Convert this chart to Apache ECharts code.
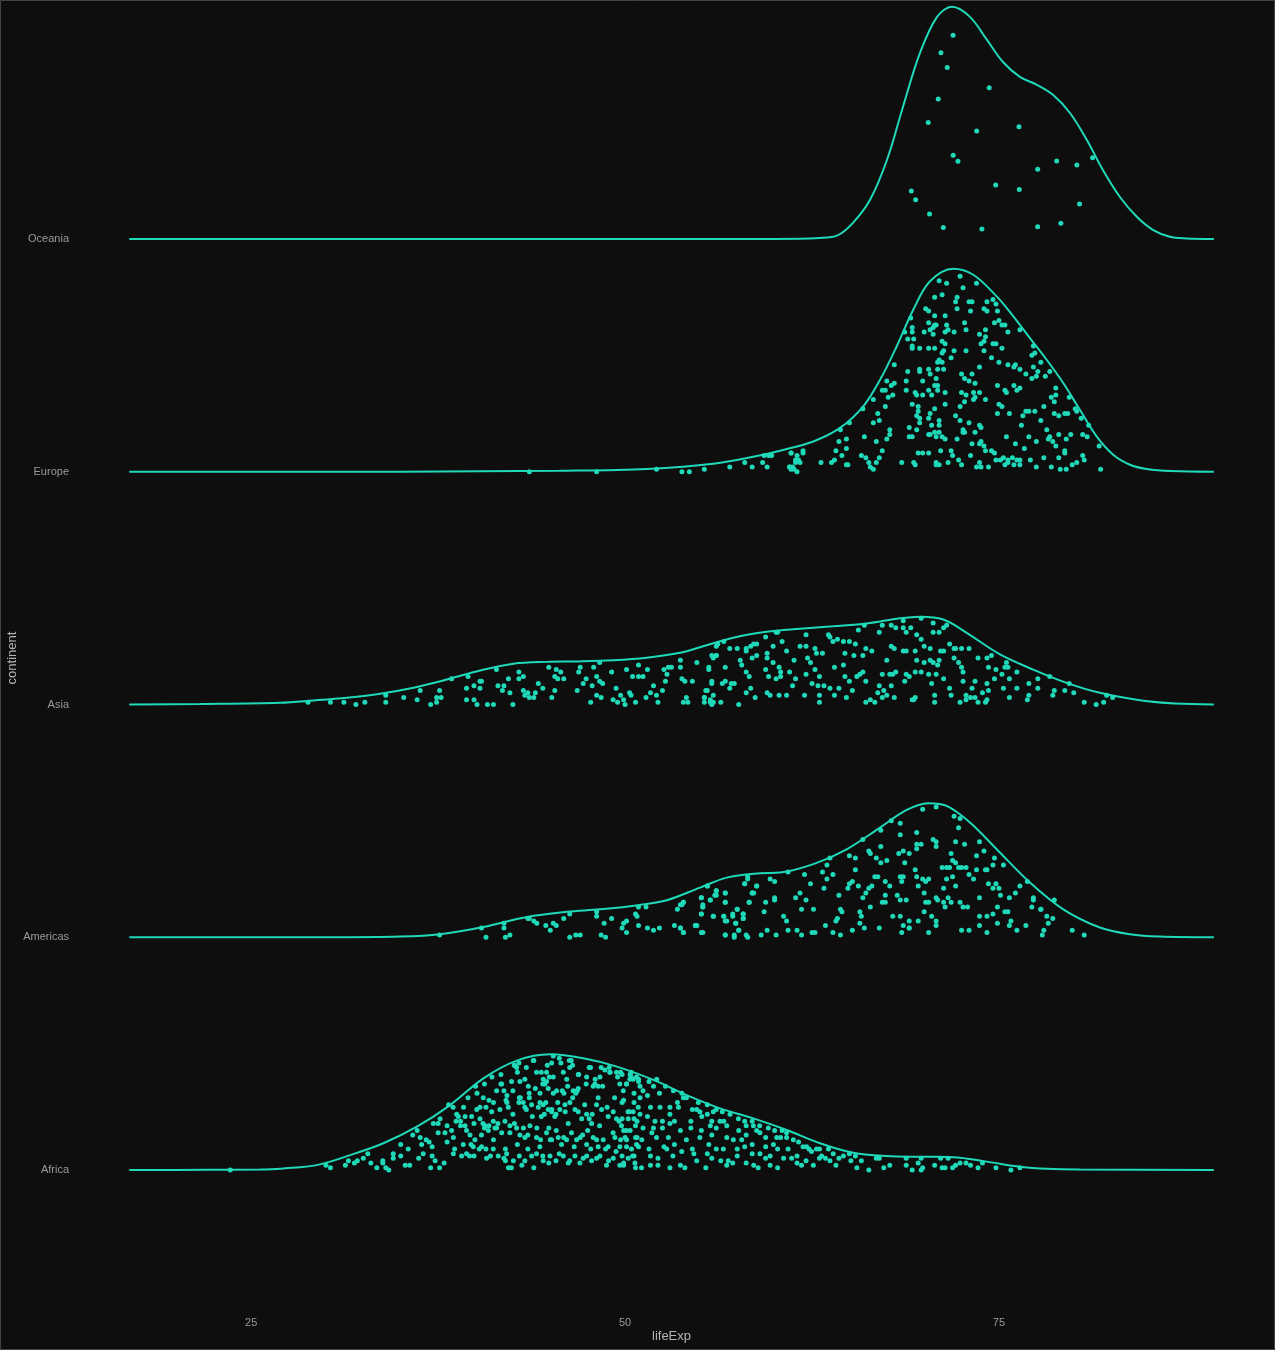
<!DOCTYPE html>
<html><head><meta charset="utf-8">
<script src="https://cdn.jsdelivr.net/npm/echarts@6/dist/echarts.min.js"></script>
<style>html,body{margin:0;padding:0;background:#0e0e0e}#c{width:1275px;height:1350px}</style>
</head><body><div id="c"></div>
<script>
const continents = ['Africa','Americas','Asia','Europe','Oceania'];
const xTicks = [25, 50, 75];

// density curves: [lifeExp, height in ridge units]
const africaCurve = [[16.85,0],[22,0.001],[25.6,0.002],[27.16,0.007],[29.39,0.021],[31.62,0.064],[33.84,0.115],[36.08,0.186],[38.3,0.279],[40.53,0.394],[42.76,0.470],[44.99,0.497],[47.21,0.480],[49.45,0.444],[51.89,0.387],[54.12,0.322],[56.35,0.265],[58.58,0.222],[60.81,0.172],[63.03,0.115],[65.26,0.074],[67.49,0.060],[69.72,0.057],[71.94,0.055],[74.18,0.036],[76.4,0.014],[77.74,0.007],[80.41,0.002],[89.37,0]];
const americasCurve = [[16.85,0],[30.3,0],[34.96,0.003],[37.63,0.013],[40.53,0.044],[43.43,0.087],[46.1,0.109],[48.33,0.120],[51.0,0.139],[52.79,0.159],[55.01,0.213],[56.8,0.256],[59.02,0.275],[60.36,0.278],[62.59,0.314],[64.82,0.378],[67.05,0.471],[68.83,0.547],[70.27,0.576],[71.5,0.564],[73.06,0.493],[74.85,0.378],[77.07,0.235],[79.3,0.120],[81.75,0.042],[83.76,0.013],[85.76,0.003],[89.37,0]];
const asiaCurve = [[16.85,0],[21.6,0.002],[26.94,0.007],[29.16,0.017],[31.4,0.029],[33.62,0.046],[35.85,0.072],[38.08,0.107],[40.31,0.146],[42.53,0.175],[44.77,0.183],[46.99,0.185],[49.22,0.190],[51.45,0.201],[53.68,0.222],[55.01,0.246],[57.24,0.287],[59.47,0.312],[61.7,0.325],[63.92,0.336],[66.16,0.348],[68.38,0.370],[69.72,0.377],[71.28,0.365],[72.84,0.308],[75.07,0.215],[77.29,0.150],[79.52,0.093],[81.75,0.050],[84.42,0.018],[86.76,0.004],[89.37,0]];
const europeCurve = [[16.85,0],[35,0],[40.3,0.002],[45.6,0.004],[51.45,0.012],[55.9,0.034],[59.24,0.073],[60.36,0.09],[62.59,0.130],[64.37,0.188],[65.93,0.281],[67.05,0.395],[68.16,0.538],[69.27,0.696],[70.39,0.818],[71.94,0.872],[73.28,0.846],[74.85,0.753],[75.96,0.667],[77.07,0.574],[78.19,0.481],[79.3,0.381],[80.41,0.266],[81.53,0.152],[82.64,0.073],[83.76,0.030],[84.87,0.012],[86.5,0.003],[89.37,0]];
const oceaniaCurve = [[16.85,0],[60,0],[63.0,0.004],[64.2,0.015],[65.24,0.069],[66.38,0.168],[67.51,0.339],[68.58,0.567],[69.72,0.799],[70.86,0.954],[71.86,0.997],[73.06,0.954],[74.2,0.855],[75.27,0.760],[76.4,0.696],[77.54,0.662],[78.61,0.619],[79.75,0.541],[80.88,0.425],[81.95,0.296],[83.09,0.180],[84.22,0.095],[85.29,0.039],[86.43,0.009],[87.5,0.002],[89.37,0]];

// jittered points: [lifeExp, height in ridge units]
const oceaniaPts = [[71.93,0.875],[71.12,0.800],[71.54,0.736],[74.35,0.650],[70.94,0.601],[70.27,0.500],[73.51,0.464],[76.34,0.482],[71.94,0.360],[72.26,0.334],[77.59,0.299],[78.86,0.335],[80.21,0.318],[81.26,0.349],[69.14,0.206],[69.43,0.168],[74.78,0.232],[76.36,0.212],[70.36,0.107],[71.28,0.049],[73.86,0.043],[77.59,0.052],[79.14,0.067],[80.39,0.150]];

const europePts = [[72.4,0.84],[71.0,0.82],[71.5,0.81],[73.5,0.81],[72.6,0.79],[70.7,0.75],[71.2,0.76],[72.2,0.75],[72.1,0.73],[73.0,0.73],[73.2,0.73],[74.2,0.73],[74.6,0.74],[74.8,0.72],[70.1,0.70],[70.3,0.69],[70.7,0.67],[71.4,0.67],[72.2,0.70],[73.1,0.69],[74.0,0.70],[74.2,0.69],[74.9,0.69],[69.1,0.66],[74.7,0.64],[75.0,0.65],[75.4,0.63],[75.2,0.63],[69.2,0.62],[70.3,0.64],[70.7,0.63],[70.8,0.63],[71.5,0.63],[70.4,0.61],[70.6,0.62],[71.6,0.61],[72.0,0.60],[72.7,0.64],[72.8,0.61],[74.1,0.61],[73.7,0.59],[74.1,0.58],[75.6,0.60],[76.4,0.61],[68.7,0.60],[69.2,0.60],[70.0,0.60],[70.6,0.59],[71.4,0.60],[71.2,0.56],[71.4,0.55],[68.9,0.57],[69.3,0.57],[69.2,0.54],[69.2,0.53],[69.7,0.53],[70.3,0.53],[70.7,0.53],[71.3,0.52],[72.0,0.52],[72.8,0.52],[73.8,0.55],[74.0,0.56],[74.6,0.55],[74.8,0.55],[75.2,0.53],[74.0,0.52],[77.3,0.54],[77.4,0.51],[77.2,0.50],[74.5,0.49],[75.0,0.47],[71.8,0.49],[71.2,0.51],[71.0,0.48],[70.9,0.47],[71.2,0.47],[68.0,0.46],[69.7,0.44],[69.7,0.43],[70.3,0.44],[70.4,0.42],[70.9,0.44],[71.3,0.44],[73.7,0.45],[75.6,0.46],[76.0,0.45],[76.1,0.46],[76.4,0.44],[76.8,0.42],[77.3,0.45],[77.2,0.40],[77.5,0.41],[77.6,0.43],[78.1,0.41],[78.4,0.43],[77.8,0.47],[68.9,0.43],[72.5,0.42],[73.2,0.42],[72.7,0.40],[73.0,0.39],[73.4,0.38],[67.5,0.39],[68.0,0.38],[67.8,0.37],[68.8,0.39],[69.9,0.39],[70.8,0.40],[70.9,0.37],[70.7,0.37],[74.9,0.37],[75.4,0.35],[75.5,0.34],[76.0,0.37],[76.2,0.35],[76.4,0.36],[78.8,0.36],[78.5,0.32],[78.8,0.33],[78.7,0.30],[67.2,0.35],[67.4,0.35],[67.6,0.32],[67.9,0.33],[68.8,0.35],[69.4,0.34],[69.5,0.33],[69.9,0.33],[70.3,0.35],[70.5,0.33],[70.9,0.35],[71.4,0.34],[72.5,0.34],[72.8,0.33],[73.3,0.34],[73.7,0.34],[74.1,0.31],[75.0,0.29],[75.2,0.28],[74.9,0.25],[73.3,0.31],[73.4,0.32],[72.7,0.30],[72.4,0.28],[66.6,0.31],[67.4,0.28],[69.2,0.29],[69.6,0.28],[69.6,0.26],[70.4,0.25],[70.7,0.27],[71.4,0.29],[69.5,0.24],[69.7,0.23],[70.3,0.23],[71.0,0.22],[71.0,0.20],[69.7,0.21],[70.5,0.20],[72.1,0.24],[72.4,0.22],[73.0,0.21],[72.6,0.18],[73.7,0.20],[75.7,0.25],[76.6,0.24],[76.8,0.26],[77.0,0.26],[77.4,0.26],[78.0,0.28],[78.7,0.25],[79.0,0.24],[79.4,0.25],[79.6,0.25],[79.7,0.32],[80.1,0.27],[80.2,0.26],[80.5,0.23],[77.8,0.22],[76.5,0.20],[65.9,0.27],[66.9,0.25],[66.6,0.21],[67.0,0.22],[65.0,0.21],[64.4,0.18],[64.3,0.13],[64.8,0.14],[64.8,0.10],[66.0,0.15],[66.8,0.13],[67.5,0.14],[67.7,0.18],[67.7,0.16],[69.0,0.19],[69.0,0.15],[69.2,0.15],[69.5,0.18],[70.3,0.16],[70.4,0.16],[70.7,0.17],[70.8,0.15],[71.0,0.17],[71.2,0.15],[71.4,0.14],[72.2,0.14],[72.6,0.17],[72.7,0.17],[73.4,0.17],[73.8,0.19],[75.5,0.15],[77.0,0.15],[77.5,0.13],[78.2,0.18],[78.4,0.15],[78.3,0.14],[78.6,0.13],[79.0,0.16],[79.5,0.14],[79.8,0.16],[80.6,0.16],[80.9,0.15],[81.0,0.20],[81.7,0.11],[81.8,0.01],[64.1,0.09],[64.5,0.07],[64.8,0.03],[65.8,0.07],[66.1,0.06],[66.3,0.04],[66.4,0.02],[66.6,0.01],[66.8,0.04],[67.0,0.06],[67.2,0.09],[68.5,0.04],[69.3,0.04],[69.4,0.03],[69.6,0.08],[69.9,0.08],[70.3,0.08],[70.8,0.04],[71.0,0.03],[71.1,0.09],[71.6,0.04],[71.8,0.09],[71.9,0.07],[72.3,0.05],[72.5,0.03],[73.1,0.07],[73.2,0.12],[73.7,0.12],[73.8,0.13],[74.0,0.11],[74.1,0.09],[74.5,0.09],[74.7,0.08],[74.8,0.05],[75.1,0.05],[75.3,0.06],[75.6,0.05],[75.4,0.03],[75.6,0.04],[75.9,0.06],[76.1,0.12],[76.2,0.05],[76.4,0.05],[76.7,0.10],[77.1,0.05],[77.5,0.02],[78.0,0.06],[78.5,0.02],[78.8,0.11],[79.0,0.06],[79.4,0.09],[79.4,0.08],[79.9,0.03],[80.2,0.04],[80.6,0.07],[80.7,0.05],[79.1,0.01],[79.5,0.01],[76.0,0.03],[76.4,0.03],[73.5,0.02],[73.8,0.02],[74.3,0.02],[73.7,0.04],[70.8,0.03],[63.1,0.04],[63.8,0.04],[64.0,0.05],[64.9,0.03],[61.1,0.08],[61.4,0.05],[61.7,0.04],[61.3,0.01],[61.0,0.02],[61.9,0.08],[61.5,0.07],[43.6,0.0],[48.1,0.0],[52.1,0.01],[53.8,0.0],[54.3,0.0],[55.3,0.01],[57.0,0.02],[58.0,0.04],[58.5,0.02],[59.2,0.04],[59.5,0.02],[59.3,0.07],[59.6,0.07],[59.8,0.07],[61.1,0.08],[61.9,0.09],[61.4,0.04],[61.6,0.05],[61.2,0.02],[61.1,0.01],[61.5,0.0],[61.0,0.02]];

const asiaPts = [[28.8,0.01],[30.3,0.01],[31.2,0.01],[32.0,0.0],[32.6,0.01],[34.0,0.04],[34.0,0.01],[35.2,0.03],[36.1,0.02],[36.3,0.06],[37.0,0.0],[37.4,0.01],[37.4,0.03],[37.6,0.06],[37.7,0.03],[38.4,0.11],[39.4,0.07],[39.4,0.02],[39.5,0.12],[39.9,0.08],[39.9,0.02],[40.1,0.0],[40.3,0.07],[40.3,0.10],[40.4,0.10],[40.8,0.0],[41.2,0.0],[41.4,0.15],[41.5,0.08],[41.8,0.06],[41.9,0.08],[42.2,0.11],[42.3,0.05],[42.5,0.0],[42.9,0.14],[42.9,0.11],[43.2,0.12],[43.2,0.06],[43.3,0.04],[43.5,0.05],[43.6,0.03],[43.9,0.03],[44.0,0.05],[44.2,0.09],[44.5,0.07],[44.9,0.16],[45.1,0.03],[45.3,0.06],[45.3,0.12],[45.4,0.15],[45.5,0.11],[45.7,0.14],[45.9,0.11],[46.8,0.06],[46.9,0.14],[47.0,0.16],[47.2,0.09],[47.4,0.11],[47.7,0.01],[47.8,0.08],[47.9,0.16],[48.1,0.04],[48.1,0.12],[48.3,0.18],[48.3,0.10],[48.5,0.09],[48.4,0.03],[49.1,0.14],[49.2,0.02],[49.4,0.07],[49.5,0.01],[49.7,0.04],[49.9,0.02],[50.1,0.15],[50.0,0.0],[50.3,0.05],[50.4,0.04],[50.5,0.12],[50.7,0.01],[50.9,0.17],[50.9,0.12],[51.2,0.12],[51.4,0.03],[51.5,0.15],[51.7,0.05],[51.9,0.08],[52.1,0.04],[52.2,0.01],[52.5,0.06],[52.6,0.15],[52.7,0.10],[52.9,0.16],[53.1,0.16],[52.8,0.13],[53.7,0.19],[53.7,0.16],[53.8,0.11],[54.0,0.10],[54.1,0.03],[53.9,0.01],[54.2,0.01],[54.5,0.10],[54.8,0.18],[55.3,0.03],[55.4,0.06],[55.6,0.15],[55.7,0.01],[55.8,0.09],[55.9,0.20],[56.1,0.25],[56.1,0.21],[55.9,0.01],
[56.2,0.26],[56.6,0.27],[56.1,0.21],[55.8,0.21],[57.5,0.24],[57.0,0.24],[58.1,0.24],[58.6,0.26],[58.8,0.26],[58.4,0.25],[58.1,0.23],[58.5,0.20],[58.8,0.21],[59.4,0.29],[60.1,0.31],[60.2,0.31],[60.5,0.27],[59.9,0.25],[59.5,0.22],[59.5,0.20],[60.8,0.23],[55.6,0.16],[56.7,0.16],[57.7,0.19],[57.8,0.17],[58.1,0.14],[58.3,0.12],[59.4,0.15],[59.6,0.12],[59.9,0.18],[60.4,0.14],[60.3,0.16],[61.0,0.14],[61.4,0.11],[61.3,0.19],[60.1,0.11],[60.4,0.12],[62.1,0.30],[61.7,0.25],[62.1,0.25],[62.7,0.24],[63.2,0.22],[62.2,0.20],[62.8,0.22],[62.4,0.18],[62.1,0.13],[62.7,0.15],[63.0,0.12],[63.6,0.30],[63.7,0.29],[63.9,0.27],[64.2,0.28],[64.6,0.27],[65.0,0.27],[65.4,0.26],[65.6,0.32],[66.0,0.34],[64.7,0.22],[65.3,0.21],[65.9,0.21],[66.1,0.24],[66.5,0.23],[64.0,0.16],[64.6,0.17],[64.7,0.12],[65.0,0.10],[65.5,0.12],[65.7,0.13],[65.9,0.14],[66.1,0.10],[67.2,0.34],[67.0,0.31],[67.8,0.34],[68.1,0.33],[68.6,0.36],[68.6,0.33],[68.8,0.31],[69.1,0.33],[69.8,0.37],[69.5,0.30],[69.8,0.28],[70.0,0.25],[70.6,0.35],[70.6,0.31],[71.0,0.31],[71.3,0.33],[71.5,0.34],[67.8,0.25],[68.0,0.24],[68.6,0.23],[68.8,0.23],[69.4,0.23],[67.5,0.19],[67.2,0.13],[67.7,0.13],[67.9,0.13],[68.1,0.14],[68.8,0.13],[69.0,0.12],[68.7,0.10],[69.5,0.19],[69.4,0.14],[69.8,0.14],[70.0,0.18],[70.4,0.19],[70.6,0.18],[70.4,0.24],[70.9,0.17],[71.0,0.19],[70.3,0.13],[70.8,0.13],[70.5,0.09],[71.3,0.11],[71.1,0.23],[71.3,0.23],[71.7,0.26],[72.0,0.24],[72.1,0.24],[72.5,0.24],[73.0,0.24],[72.0,0.20],[72.3,0.18],[72.5,0.16],[72.6,0.14],[73.6,0.20],[74.2,0.20],[74.5,0.21],[74.3,0.16],[74.8,0.15],[75.5,0.18],[75.4,0.16],[75.6,0.16],[76.2,0.14],[75.2,0.13],[75.7,0.11],[74.7,0.11],[73.4,0.10],[72.6,0.10],[74.2,0.09],[77.0,0.09],[77.6,0.11],[78.4,0.12],[79.7,0.09],[79.4,0.06],[78.7,0.06],[78.6,0.04],[80.0,0.05],[77.6,0.07],[76.2,0.07],[75.3,0.07],[75.7,0.03],[77.0,0.04],[76.9,0.02],[80.7,0.01],[81.5,0.0],[82.0,0.01],[82.2,0.04],[82.6,0.03],[55.8,0.10],[56.5,0.09],[56.7,0.10],[57.1,0.09],[57.3,0.09],[57.0,0.07],[55.5,0.06],[55.9,0.04],[55.3,0.03],[55.3,0.01],[55.7,0.02],[55.8,0.0],[56.4,0.01],[57.6,0.0],[58.1,0.05],[58.4,0.07],[58.7,0.03],[59.5,0.05],[59.7,0.04],[60.3,0.04],[60.8,0.04],[61.2,0.08],[62.0,0.04],[62.5,0.09],[62.9,0.08],[63.0,0.04],[63.0,0.01],[63.3,0.08],[63.7,0.07],[64.0,0.04],[64.3,0.07],[64.8,0.03],[65.2,0.06],[66.1,0.01],[66.4,0.02],[66.7,0.01],[66.9,0.05],[67.0,0.08],[67.3,0.06],[67.2,0.03],[67.5,0.04],[67.8,0.08],[68.0,0.03],[69.2,0.02],[69.4,0.03],[69.3,0.02],[70.7,0.04],[70.7,0.01],[71.7,0.07],[71.8,0.04],[72.4,0.01],[72.8,0.04],[73.1,0.03],[72.8,0.02],[73.4,0.03],[73.6,0.01],[74.1,0.01],[74.2,0.02],[74.3,0.06],[73.9,0.05],[73.2,0.07]];

const americasPts = [[37.6,0.01],[40.4,0.04],[40.7,0.0],[41.9,0.06],[41.9,0.04],[42.0,0.0],[42.3,0.01],[43.5,0.08],[43.6,0.08],[43.9,0.07],[44.1,0.06],[44.7,0.05],[45.0,0.03],[45.2,0.06],[45.4,0.05],[45.9,0.08],[46.3,0.10],[46.3,0.0],[46.7,0.01],[47.0,0.01],[48.1,0.11],[48.1,0.09],[48.4,0.01],[48.7,0.0],[48.6,0.06],[49.1,0.08],[49.8,0.04],[49.9,0.06],[50.1,0.07],[50.1,0.02],[50.7,0.10],[50.8,0.09],[50.9,0.05],[50.9,0.13],[51.4,0.13],[51.5,0.04],[51.9,0.03],[52.3,0.04],[53.3,0.05],[53.5,0.12],[53.7,0.04],[53.8,0.14],[53.9,0.15],[53.9,0.02],[54.7,0.05],[54.8,0.05],[55.1,0.17],[55.1,0.10],[55.2,0.13],[55.2,0.14],[55.1,0.02],[55.5,0.22],[55.7,0.16],[55.9,0.09],[56.0,0.18],[56.1,0.20],[56.7,0.19],[56.7,0.15],[56.6,0.09],[56.7,0.07],[56.7,0.01],[57.2,0.10],[57.3,0.0],[57.4,0.06],[57.5,0.12],[57.6,0.03],[57.9,0.10],[57.9,0.08],[58.0,0.23],[58.2,0.25],[58.3,0.15],[58.5,0.19],[58.6,0.19],[58.2,0.0],[58.8,0.22],
[69.9,0.55],[70.8,0.56],[72.0,0.52],[72.4,0.51],[72.3,0.47],[68.4,0.49],[67.8,0.50],[67.1,0.46],[65.9,0.42],[68.4,0.44],[69.5,0.45],[69.5,0.40],[69.8,0.40],[69.5,0.38],[70.6,0.42],[70.8,0.41],[70.8,0.39],[72.1,0.41],[72.7,0.40],[73.7,0.41],[74.0,0.37],[73.5,0.35],[74.7,0.34],[75.3,0.31],[76.9,0.24],[77.3,0.17],[77.8,0.12],[78.2,0.09],[78.6,0.08],[78.7,0.16],[78.3,0.06],[78.0,0.03],[77.9,0.01],[79.9,0.03],[80.7,0.01],[66.3,0.37],[66.4,0.36],[67.1,0.39],[66.8,0.34],[67.1,0.32],[67.5,0.33],[68.3,0.36],[68.6,0.37],[69.0,0.36],[68.7,0.32],[65.0,0.35],[65.4,0.34],[65.4,0.29],[63.7,0.34],[63.5,0.31],[63.5,0.25],[63.2,0.28],[63.9,0.27],[62.0,0.27],[62.4,0.23],[63.3,0.21],[60.9,0.28],[59.7,0.25],[60.0,0.24],[58.8,0.22],[58.5,0.19],[58.0,0.23],[58.2,0.26],[56.7,0.19],[56.1,0.20],[56.1,0.18],[55.7,0.16],[55.5,0.22],[55.1,0.17],[55.2,0.13],[55.1,0.10],[53.9,0.15],[53.7,0.14],[56.7,0.15],[55.9,0.09],[56.6,0.09],[56.8,0.07],[57.2,0.09],[57.5,0.12],[57.4,0.06],[57.9,0.10],[57.9,0.08],[58.3,0.15],[59.3,0.11],[59.4,0.15],[60.0,0.17],[60.0,0.16],[60.6,0.09],[60.8,0.07],[61.4,0.17],[61.7,0.19],[61.8,0.12],[62.1,0.16],[62.6,0.12],[64.3,0.18],[64.4,0.12],[64.5,0.11],[64.2,0.08],[64.1,0.07],[64.9,0.21],[65.0,0.23],[65.2,0.24],[65.6,0.22],[65.9,0.17],[66.1,0.19],[66.3,0.21],[66.5,0.22],[65.7,0.11],[65.8,0.09],[65.7,0.06],[66.0,0.04],[66.4,0.13],[66.7,0.26],[66.9,0.26],[67.2,0.15],[67.4,0.15],[67.4,0.18],[67.4,0.24],[67.7,0.22],[67.9,0.09],[68.2,0.18],[68.4,0.16],[68.4,0.26],[68.6,0.26],[68.5,0.24],[68.8,0.16],[68.4,0.09],[68.6,0.05],[68.5,0.02],[69.0,0.07],[69.0,0.04],[69.4,0.29],[69.5,0.26],[69.6,0.22],[69.9,0.25],[70.1,0.24],[70.3,0.25],[70.0,0.19],[70.1,0.15],[70.3,0.15],[70.0,0.11],[70.5,0.09],[70.8,0.07],[70.8,0.05],[70.3,0.02],[71.2,0.30],[71.5,0.30],[71.7,0.30],[71.9,0.33],[72.1,0.32],[72.3,0.30],[72.5,0.30],[72.8,0.30],[71.9,0.26],[71.5,0.25],[71.3,0.21],[71.8,0.36],[72.1,0.22],[70.8,0.17],[70.9,0.16],[71.3,0.15],[71.4,0.13],[71.6,0.17],[71.8,0.15],[72.4,0.15],[72.6,0.13],[72.9,0.13],[73.0,0.27],[73.3,0.25],[73.5,0.29],[74.1,0.29],[74.2,0.29],[74.6,0.31],[74.3,0.23],[74.6,0.21],[74.8,0.23],[75.0,0.21],[75.1,0.18],[73.7,0.17],[75.7,0.17],[76.1,0.19],[76.4,0.22],[77.3,0.16],[77.2,0.13],[77.8,0.12],[74.9,0.13],[74.6,0.10],[74.2,0.09],[73.7,0.09],[75.4,0.11],[75.6,0.11],[75.8,0.07],[75.7,0.05],[76.2,0.03],[76.8,0.05],[74.9,0.06],[74.2,0.02],[73.7,0.05],[73.0,0.03],[72.5,0.03],[69.6,0.07],[69.0,0.04],[67.0,0.04],[65.2,0.03],[64.4,0.01],[63.9,0.02],[63.4,0.05],[62.7,0.02],[62.5,0.02],[61.8,0.01],[61.5,0.03],[60.9,0.03],[60.1,0.01],[59.5,0.03],[59.1,0.01],[58.1,0.01],[57.6,0.03],[57.3,0.01],[56.7,0.01],[55.2,0.02],[54.7,0.05],[53.9,0.02],[53.7,0.04]];

const africaPts = [[23.6,0.0],[30.0,0.02],[30.3,0.01],[31.3,0.02],[31.5,0.04],[31.9,0.03],[32.1,0.04],[32.5,0.05],[32.8,0.07],[33.0,0.03],[33.4,0.01],[33.8,0.03],[33.8,0.04],[34.0,0.01],[34.2,0.0],[34.5,0.07],[34.5,0.05],[35.0,0.11],[35.0,0.06],[35.3,0.02],[35.6,0.02],[35.5,0.09],[35.8,0.15],[36.1,0.17],[36.2,0.05],[36.3,0.14],[36.4,0.11],[36.5,0.07],[36.7,0.13],[36.9,0.12],[37.1,0.10],[37.1,0.06],[37.0,0.01],[37.3,0.04],[37.5,0.20],[37.5,0.16],[37.6,0.01],[37.9,0.03],[38.1,0.12],[38.1,0.19],[38.2,0.28],[38.4,0.17],[38.5,0.27],[38.6,0.09],[38.7,0.21],[39.0,0.19],[39.0,0.21],[39.2,0.27],[39.3,0.23],[39.4,0.17],[39.5,0.31],[39.4,0.07],[39.6,0.06],[39.7,0.11],[39.9,0.06],[39.9,0.20],[40.0,0.36],[40.1,0.33],[40.3,0.27],[40.4,0.15],[40.5,0.20],[40.6,0.18],[40.6,0.37],[40.7,0.09],[40.7,0.27],[40.9,0.30],[40.9,0.19],[41.0,0.06],[41.1,0.40],[41.2,0.29],[41.2,0.13],[41.3,0.18],[41.5,0.20],[41.7,0.41],[41.7,0.37],[41.9,0.05],[42.0,0.04],[42.0,0.09],[42.1,0.29],[42.1,0.32],[42.2,0.01],[42.3,0.16],[42.4,0.01],[42.5,0.34],[42.5,0.24],[42.6,0.45],[42.6,0.20],[42.8,0.42],[42.8,0.11],[42.9,0.29],[42.9,0.46],[43.0,0.31],[43.1,0.02],[43.2,0.18],[43.3,0.39],[43.4,0.26],[43.4,0.44],[43.5,0.15],[43.5,0.09],[43.6,0.31],[43.8,0.23],[43.9,0.47],[43.9,0.01],[44.0,0.35],[44.1,0.18],[44.2,0.27],[44.3,0.10],[44.4,0.23],[44.4,0.42],[44.5,0.37],[44.5,0.06],[44.6,0.24],[44.7,0.29],[44.8,0.45],[44.9,0.18],[44.9,0.03],[45.0,0.13],[45.1,0.26],[45.2,0.33],[45.2,0.49],[45.2,0.40],[45.3,0.23],[45.4,0.17],[45.5,0.29],[45.6,0.07],[45.6,0.48],[45.8,0.34],[45.9,0.14],[46.0,0.25],[46.1,0.39],[46.2,0.20],[46.3,0.44],[46.3,0.04],[46.4,0.47],[46.5,0.31],[46.6,0.10],[46.8,0.34],[46.9,0.41],[47.0,0.14],[47.1,0.22],[47.2,0.05],[47.3,0.28],[47.4,0.37],[47.5,0.17],[47.6,0.44],[47.7,0.09],[47.8,0.24],[48.0,0.39],[48.1,0.05],[48.1,0.13],[48.2,0.31],[48.3,0.19],[48.4,0.44],[48.5,0.36],[48.7,0.09],[48.8,0.27],[48.9,0.04],[49.0,0.42],[49.2,0.16],[49.3,0.31],[49.4,0.08],[49.5,0.40],[49.6,0.21],[49.7,0.13],[49.8,0.29],[49.9,0.03],[50.1,0.37],[50.1,0.17],[50.3,0.25],[50.4,0.42],[50.5,0.06],[50.6,0.33],[50.7,0.14],[50.8,0.21],[50.9,0.38],
[49.8,0.41],[50.1,0.37],[50.4,0.40],[50.9,0.39],[51.6,0.38],[51.9,0.36],[52.7,0.36],[52.3,0.33],[53.8,0.33],[54.1,0.31],[49.9,0.30],[50.6,0.29],[51.0,0.31],[51.5,0.32],[51.7,0.27],[53.0,0.27],[53.5,0.29],[54.9,0.29],[55.5,0.28],[56.1,0.26],[56.5,0.25],[55.0,0.25],[54.5,0.26],[50.2,0.25],[49.8,0.22],[50.6,0.22],[51.5,0.23],[52.0,0.21],[52.5,0.21],[53.0,0.20],[53.3,0.21],[54.4,0.21],[55.5,0.24],[55.8,0.21],[56.6,0.21],[58.0,0.21],[58.5,0.21],[49.9,0.17],[50.7,0.19],[51.2,0.18],[51.9,0.18],[52.5,0.18],[53.7,0.17],[54.4,0.18],[55.1,0.17],[55.7,0.19],[56.1,0.18],[56.8,0.19],[57.6,0.17],[58.1,0.19],[58.8,0.17],[59.0,0.19],[60.0,0.17],[60.5,0.17],[50.0,0.14],[50.8,0.14],[52.1,0.14],[52.9,0.14],[54.1,0.13],[55.0,0.14],[55.8,0.15],[56.8,0.14],[57.8,0.13],[58.1,0.15],[59.4,0.14],[60.4,0.14],[60.8,0.14],[61.6,0.12],[50.1,0.10],[50.9,0.10],[51.6,0.09],[52.6,0.10],[53.3,0.11],[54.5,0.09],[55.6,0.11],[56.1,0.09],[57.5,0.09],[58.0,0.10],[58.5,0.11],[59.4,0.10],[60.2,0.09],[60.9,0.09],[61.9,0.10],[62.3,0.09],[62.8,0.09],[63.0,0.09],[63.6,0.09],[49.8,0.06],[50.6,0.06],[51.7,0.06],[52.2,0.05],[53.2,0.06],[54.6,0.07],[55.5,0.07],[56.4,0.04],[56.9,0.04],[57.5,0.06],[58.5,0.07],[59.4,0.05],[59.7,0.06],[60.6,0.05],[61.5,0.06],[63.0,0.05],[63.4,0.05],[64.3,0.05],[65.0,0.07],[65.4,0.06],[49.9,0.02],[50.7,0.01],[51.1,0.01],[51.7,0.02],[52.2,0.02],[53.0,0.01],[53.7,0.02],[54.0,0.01],[55.4,0.01],[56.8,0.02],[57.2,0.03],[58.1,0.03],[58.6,0.02],[58.9,0.01],[59.7,0.02],[60.2,0.01],[61.5,0.03],[61.8,0.02],[62.1,0.04],[64.1,0.02],[65.1,0.04],[65.5,0.01],[65.8,0.04],[66.3,0.0],[66.8,0.05],[67.0,0.05],[67.3,0.01],[67.7,0.02],[68.8,0.05],[68.8,0.02],[69.2,0.0],[69.6,0.03],[69.8,0.05],[69.9,0.01],[69.8,0.0],[70.7,0.02],[71.1,0.05],[71.2,0.01],[71.4,0.01],[71.6,0.05],[71.9,0.01],[72.1,0.02],[72.4,0.03],[72.8,0.03],[73.1,0.02],[73.6,0.01],[73.9,0.03],[74.8,0.01],[75.8,0.0],[76.4,0.01],
[42.6,0.45],[42.75,0.44],[43.86,0.47],[45.09,0.46],[44.75,0.42],[44.93,0.40],[45.71,0.46],[46.27,0.47],[46.49,0.45],[45.87,0.42],[46.87,0.41],[44.53,0.39],[44.64,0.37],[44.75,0.38],[44.86,0.35],[45.42,0.34],[45.91,0.33],[46.16,0.36],[46.53,0.34],[46.71,0.33],[46.87,0.35],[47.43,0.40],[47.69,0.44],[47.87,0.36],[47.98,0.37],[48.2,0.36],[48.32,0.40],[48.65,0.43],[48.98,0.42],[49.43,0.42],[49.65,0.37],[49.88,0.34],[50.32,0.39],[50.54,0.39],[50.77,0.40],[49.7,0.42],[48.94,0.44],[41.75,0.37],[41.9,0.34],[42.04,0.30],[42.19,0.27],[42.93,0.31],[43.19,0.29],[43.3,0.27],[43.59,0.33],[43.75,0.28],[44.31,0.29],[44.53,0.28],[44.86,0.26],[45.09,0.25],[45.38,0.24],[45.64,0.26],[45.98,0.28],[46.31,0.29],[46.65,0.26],[46.87,0.25],[47.43,0.24],[47.6,0.22],[47.76,0.20],[48.09,0.28],[48.43,0.26],[48.87,0.23],[49.21,0.25],[49.43,0.22],[49.76,0.19],[50.21,0.22],[50.54,0.25],[50.88,0.27],[40.3,0.22],[40.63,0.19],[40.86,0.17],[41.19,0.21],[41.41,0.18],[41.75,0.16],[41.97,0.21],[42.3,0.19],[42.75,0.18],[42.97,0.15],[43.3,0.14],[43.64,0.19],[44.08,0.14],[44.35,0.13],[44.75,0.16],[45.09,0.13],[45.53,0.14],[45.75,0.11],[46.09,0.13],[46.42,0.16],[46.76,0.13],[47.16,0.15],[47.43,0.11],[47.87,0.14],[48.2,0.10],[48.54,0.13],[48.87,0.10],[49.32,0.14],[49.65,0.10],[50.1,0.13],[50.43,0.09],[50.77,0.11],[38.52,0.07],[39.07,0.06],[39.85,0.10],[40.25,0.09],[40.74,0.05],[41.19,0.09],[41.52,0.06],[42.08,0.07],[42.53,0.04],[42.93,0.06],[43.3,0.04],[43.75,0.06],[44.08,0.07],[44.53,0.04],[44.98,0.06],[45.38,0.04],[45.87,0.06],[46.2,0.03],[46.65,0.06],[46.98,0.03],[47.43,0.06],[47.76,0.04],[48.32,0.06],[48.76,0.02],[49.21,0.05],[49.65,0.02],[50.21,0.05],[50.66,0.03],[37.18,0.20],[37.63,0.22],[37.96,0.16],[38.52,0.14],[38.85,0.23],[39.18,0.11],[39.63,0.15],[39.96,0.13],[40.41,0.10],[38.74,0.24],[39.3,0.19],[39.74,0.23],[40.08,0.26],[40.52,0.31],[41.08,0.25],[41.41,0.34],[41.63,0.26],[42.41,0.38],[42.97,0.38],[43.53,0.36],[44.08,0.42],[44.31,0.33],
[50.34,0.41],[51.0,0.36],[51.2,0.34],[52.12,0.39],[53.23,0.34],[53.9,0.31],[53.57,0.27],[54.79,0.26],[55.13,0.23],[55.9,0.25],[56.35,0.21],[57.02,0.24],[57.58,0.22],[58.58,0.19],[59.02,0.16],[59.58,0.18],[60.14,0.14],[60.8,0.16],[61.25,0.13],[62.14,0.10],[62.47,0.08],[63.14,0.06],[63.92,0.07],[64.6,0.06],[50.34,0.17],[51.12,0.13],[51.79,0.16],[52.79,0.09],[53.79,0.08],[54.79,0.04],[55.8,0.05],[56.57,0.09],[57.24,0.13],[59.02,0.07],[59.92,0.11],[61.14,0.05],[62.59,0.02],[63.7,0.04],[53.0,0.24],[51.0,0.24],[52.34,0.27]];

const curves = [africaCurve, americasCurve, asiaCurve, europeCurve, oceaniaCurve];
const points = [africaPts, americasPts, asiaPts, europePts, oceaniaPts];

const col = '#1fd9b9';
const series = [];
continents.forEach((name, i) => {
  series.push({
    type: 'line', name: name, data: curves[i].map(p => [p[0], i + p[1]]),
    smooth: 0.35, symbol: 'none', showSymbol: false, silent: true,
    lineStyle: { color: col, width: 2 }, z: 2
  });
  series.push({
    type: 'scatter', name: name + ' pts', data: points[i].map(p => [p[0], i + p[1]]),
    symbolSize: 5, silent: true, itemStyle: { color: col, opacity: 1 }, z: 3
  });
});

const chart = echarts.init(document.getElementById('c'), null, { renderer: 'canvas' });
chart.setOption({
  backgroundColor: '#0e0e0e',
  animation: false,
  textStyle: { fontFamily: 'Liberation Sans, Arial, sans-serif' },
  grid: { left: 75, right: 7, top: 5, bottom: 38, containLabel: false, outerBoundsMode: 'none' },
  xAxis: {
    type: 'value', min: 13.22, max: 92.99,
    name: 'lifeExp', nameLocation: 'middle', nameGap: 18, nameMoveOverlap: false,
    nameTextStyle: { color: '#b4b4b4', fontSize: 13 },
    axisLine: { show: false }, axisTick: { show: false }, splitLine: { show: false },
    axisLabel: { customValues: xTicks, color: '#9a9a9a', fontSize: 11, margin: 5 }
  },
  yAxis: {
    type: 'value', min: -0.61, max: 5.005,
    axisLine: { show: false }, axisTick: { show: false }, splitLine: { show: false },
    axisLabel: { customValues: [0,1,2,3,4], formatter: v => continents[Math.round(v)], color: '#9a9a9a', fontSize: 11, margin: 6 }
  },
  graphic: [
    { type: 'rect', shape: { x: 0.5, y: 0.5, width: 1274, height: 1349 }, style: { fill: 'none', stroke: '#444', lineWidth: 1 }, silent: true },
    { type: 'text', x: 12, y: 658, rotation: Math.PI / 2, silent: true,
      style: { text: 'continent', fill: '#b4b4b4', font: '13px "Liberation Sans", Arial, sans-serif', align: 'center', verticalAlign: 'middle' } }
  ],
  series: series
});
</script></body></html>
